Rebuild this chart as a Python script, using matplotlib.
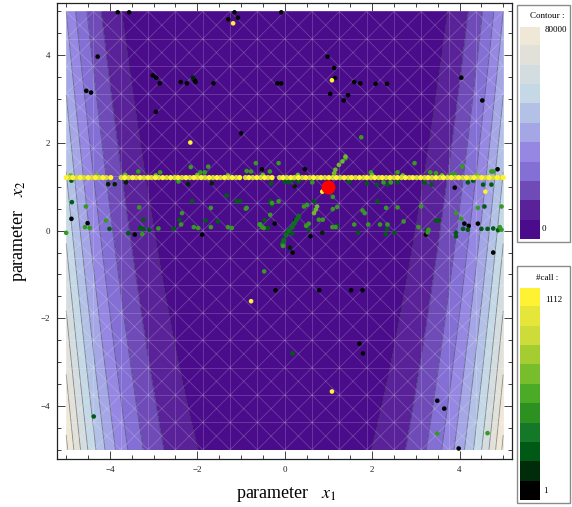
import numpy as np
import matplotlib
matplotlib.use("Agg")
import matplotlib.pyplot as plt
from matplotlib.colors import ListedColormap, LinearSegmentedColormap, BoundaryNorm, Normalize
from matplotlib.collections import LineCollection
from matplotlib.patches import Rectangle

W, H = 572, 507

# contour bands (Rosenbrock surface, levels every 8000)
contour_levels = [0, 8000, 16000, 24000, 32000, 40000, 48000, 56000, 64000, 72000, 80000, 92000]
contour_lines = [8000, 16000, 24000, 32000, 40000, 48000, 56000, 64000, 72000, 80000, 88000]
contour_colors = ["#4a0c8a", "#5a2298", "#6f4bb8", "#8470d4", "#9587e2", "#a5a6e5",
                  "#b3c1e7", "#c4d8e6", "#d3dde0", "#e1e1da", "#f0e8d6"]

# call-count colours (1 .. 1112)
call_colors = ["#000000", "#002c0a", "#005a16", "#147828", "#2d9122", "#4baa26",
               "#78bd2c", "#a5cc30", "#cddc38", "#e6e63a", "#fff232"]
call_min, call_max = 1, 1112

# sampled points, grouped by approximate call number
black_x1 = [-3.82, -3.56, -1.15, -1.29, -1.07, -0.08, -4.28, -4.54, -4.43, -3.02, -2.94, -2.86,
            -2.38, -2.24, -2.06, -2.04, -1.63, -2.95, -1.00, -0.17, -0.08, 0.98, 1.13, 1.15,
            1.04, 1.35, 1.45, 1.59, 1.73, 2.08, 2.34, 4.04, 4.52, -0.21, 0.79, 1.52, 1.78,
            1.71, 1.79, 3.49, 3.65, 3.98, 4.77, 0.18, -4.88, -4.51, -3.43, -1.89, -0.52, 0.46,
            -0.23, 0.25, 3.89, 4.87, 3.23, 4.11, 4.21, 4.42, 0.59]
black_x2 = [4.98, 4.98, 4.98, 4.82, 4.86, 4.98, 3.97, 3.19, 3.15, 3.54, 3.49, 3.36,
            3.39, 3.36, 3.43, 3.39, 3.36, 2.71, 2.22, 3.36, 3.36, 3.97, 3.71, 3.48,
            3.12, 2.97, 3.09, 3.39, 3.36, 3.35, 3.35, 3.49, 2.97, -1.36, -1.36, -1.36, -1.36,
            -2.58, -2.80, -3.88, -4.06, -4.97, -0.50, -0.50, 0.27, 0.17, -0.09, -0.09, 1.40, 1.40,
            0.16, 0.25, 0.98, 1.40, -0.09, 0.16, 0.11, 0.16, -0.13]
black_call = 15

vdark_x1 = [-4.04, -3.89, -3.63, -2.21, -2.10, 0.86, -1.67, 0.23, 0.12]
vdark_x2 = [1.06, 1.06, 1.10, 1.06, 3.49, -0.05, 1.08, 1.01, -0.39]
vdark_call = 90

dkgreen_x1 = [0.18, -4.37, -4.88, -4.87, -2.12, -4.01, -3.58, -3.31, -3.23, -3.10, -3.23, -2.54,
              -2.41, 0.00, 0.09, 0.18, 0.32, -0.31, -1.33, -1.10, -1.02, -0.33, -0.29, 0.67,
              -1.81, -1.53, -0.38, -0.46, 0.55, 1.20, 0.05, 0.17, 1.88, 2.11, 2.35, 2.58,
              3.20, 3.36, 4.19, 4.31, 4.54, 4.73, 4.57, 2.12, 3.46, 3.52, 2.34, 2.31, 2.51,
              1.68, 3.92, 3.92, 4.08, 4.19, 4.50, 4.64, 4.77, 4.88, 3.25, 1.47]
dkgreen_x2 = [-2.80, -4.24, 1.14, 0.65, 0.67, 0.04, -0.06, 0.06, 0.04, 0.02, 0.25, 0.04,
              0.25, 1.12, 1.10, 1.16, 1.12, 1.08, 0.80, 0.67, 0.67, 0.67, 0.59, 0.67,
              0.23, 0.21, 0.06, 0.24, 0.02, 0.11, -0.05, -0.07, 1.08, 1.05, 1.05, 1.10,
              1.10, 1.05, 1.10, 1.14, 1.05, 1.05, 0.55, 0.67, 0.23, 0.23, 0.04, -0.08, -0.05,
              -0.05, -0.05, -0.13, 0.04, 0.02, 0.04, 0.04, 0.05, 0.01, 0.01, 1.11]
dkgreen_call = 230

streak_x1 = [0.32, 0.27, 0.22, 0.17, 0.10, 0.03, -0.02, -0.05]
streak_x2 = [0.33, 0.25, 0.17, 0.08, 0.00, -0.10, -0.22, -0.30]
streak_call = 300

green_x1 = [1.75, -0.04, -0.47, 3.49, 4.64, -2.15, -3.35, -2.85, -1.93, -1.83, -2.43, -4.55,
            -3.33, -2.35, -4.57, -4.46, -4.09, -5.00, -3.26, -2.89, -2.37, -2.08, -1.98, -0.66,
            -0.14, -1.75, -0.87, -0.77, -0.34, 0.63, 1.10, -0.14, -1.69, -0.87, 0.44, 0.51,
            1.10, 1.20, -1.69, -1.30, -1.21, -0.56, -0.48, 0.55, 0.49, 0.78, 0.87, 1.09, 1.16,
            2.97, 4.06, 2.58, 1.97, 3.33, 3.46, 3.81, 3.89, 4.73, 4.77, 1.39, 2.26, 2.43,
            4.42, 4.96, 1.78, 1.83, 2.32, 2.58, 3.12, 2.72, 3.92, 4.04, 1.59, 1.91, 2.18,
            2.35, 3.06, 3.29, 3.27, 4.92, 4.96, -0.33, -0.29, -0.89, -0.58, -0.52]
green_x2 = [2.13, -0.35, -0.93, -4.63, -4.62, 1.45, 1.35, 1.33, 1.33, 1.33, 1.12, 0.55,
            0.53, 0.40, 0.08, 0.06, 0.23, -0.05, -0.08, 0.05, 0.14, 0.08, 0.06, 1.54,
            1.54, 1.46, 1.36, 1.35, 1.35, 1.10, 0.77, 0.67, 0.52, 0.52, 0.55, 0.59,
            0.49, 0.54, 0.08, 0.08, 0.06, 0.14, 0.06, 0.16, 0.11, 0.25, 0.25, 0.08, 0.08,
            1.54, 1.46, 1.33, 1.33, 1.33, 1.31, 1.27, 1.29, 1.35, 1.35, 1.65, 1.10, 1.10,
            0.52, 0.55, 0.46, 0.40, 0.52, 0.53, 0.55, 0.21, 0.40, 0.27, 0.14, 0.14, 0.14,
            0.14, 0.08, 0.02, -0.04, 0.08, 0.02, 0.36, 0.63, 0.50, 0.14, 0.08]
green_call = 480

ltgreen_x1 = [1.13, 1.16, 1.24, 1.32, 1.39, 0.74, 0.71, 0.67,
              -4.90, -4.30, -3.65, -2.95, -2.00, -1.30, -0.50, 0.30, 2.00, 2.70, 3.60, 4.40]
ltgreen_x2 = [1.31, 1.39, 1.50, 1.58, 1.69, 0.55, 0.48, 0.40,
              1.26, 1.26, 1.27, 1.26, 1.27, 1.26, 1.27, 1.27, 1.27, 1.26, 1.26, 1.27]
ltgreen_call = 640

yellow_x1 = [-1.18, -2.16, 1.08, -0.77, 1.08, 4.59, 0.86]
yellow_x2 = [4.73, 2.01, 3.43, -1.61, -3.67, 0.89, 0.89]
yellow_call = 1100

# the long run of late calls along x2 ~ 1.21
line_x2 = 1.21
line_bright_x1 = [-5.0, -4.85, -4.68, -4.5, -4.33, -4.16, -3.98, -3.66, -3.48, -3.31, -3.13,
                  -2.96, -2.79, -2.61, -2.44, -2.26, -2.08, -1.91, -1.73, -1.55, -1.38, -1.2,
                  -1.03, -0.82, -0.64, -0.46, -0.29, -0.04, 0.14, 0.31, 0.48, 0.66, 0.83, 1.01,
                  1.18, 1.36, 1.53, 1.71, 1.88, 2.06, 2.23, 2.41, 2.58, 2.76, 2.93, 3.11, 3.28,
                  3.46, 3.63, 3.81, 3.98, 4.16, 4.33, 4.51, 4.68, 4.86, 5.0]
line_pale_x1 = [-4.93, -4.76, -4.6, -4.42, -4.25, -4.08, -3.74, -3.57, -3.4, -3.22, -3.05,
                -2.88, -2.7, -2.52, -2.35, -2.17, -2.0, -1.82, -1.64, -1.47, -1.29, -1.11,
                -0.9, -0.73, -0.55, -0.38, -0.12, 0.05, 0.22, 0.4, 0.57, 0.75, 0.92, 1.1,
                1.27, 1.45, 1.62, 1.8, 1.97, 2.15, 2.32, 2.5, 2.67, 2.85, 3.02, 3.2, 3.37,
                3.55, 3.72, 3.9, 4.07, 4.25, 4.42, 4.6, 4.77, 4.95]
line_bright_call = 1112
line_pale_call = 900

optimum = (1.0, 1.0)

serif = "Liberation Serif"
plt.rcParams["font.family"] = [serif, "DejaVu Serif"]
plt.rcParams["mathtext.fontset"] = "stix"


def fx(px):
    return px / W


def fy(py):
    return 1 - py / H


fig = plt.figure(figsize=(W / 100, H / 100), dpi=100)
ax = fig.add_axes([fx(57), fy(459), (512 - 57) / W, (459 - 2.7) / H])
ax.set_xlim(-5.21, 5.2)
ax.set_ylim(-5.21, 5.2)

# contour surface on the [-5, 5] square
g1 = np.linspace(-5, 5, 400)
X1, X2 = np.meshgrid(g1, g1)
Z = 100 * (X2 - X1 ** 2) ** 2 + (1 - X1) ** 2
cmap_c = ListedColormap(contour_colors)
norm_c = BoundaryNorm(contour_levels, cmap_c.N)
ax.contourf(X1, X2, Z, levels=contour_levels, cmap=cmap_c, norm=norm_c)
ax.contour(X1, X2, Z, levels=contour_lines, colors="#3a3a4a", linewidths=0.6, alpha=0.55)

# faint triangulation mesh overlay
s = 0.625
ticks_m = np.arange(-5, 5.001, s)
segs = [[(t, -5), (t, 5)] for t in ticks_m] + [[(-5, t), (5, t)] for t in ticks_m]
for k in range(-16, 17):
    c = k * s
    lo, hi = max(-5, -5 - c), min(5, 5 - c)
    if hi > lo:
        segs.append([(lo, lo + c), (hi, hi + c)])
    lo, hi = max(-5, c - 5), min(5, c + 5)
    if hi > lo:
        segs.append([(lo, c - lo), (hi, c - hi)])
ax.add_collection(LineCollection(segs, colors="white", linewidths=0.6, alpha=0.2))

# sample points coloured by call number
cmap_p = LinearSegmentedColormap.from_list("calls", call_colors)
norm_p = Normalize(call_min, call_max)
groups = [
    (black_x1, black_x2, black_call, 11),
    (vdark_x1, vdark_x2, vdark_call, 11),
    (dkgreen_x1, dkgreen_x2, dkgreen_call, 11),
    (streak_x1, streak_x2, streak_call, 14),
    (green_x1, green_x2, green_call, 11),
    (ltgreen_x1, ltgreen_x2, ltgreen_call, 11),
    (line_pale_x1, [line_x2] * len(line_pale_x1), line_pale_call, 14),
    (line_bright_x1, [line_x2] * len(line_bright_x1), line_bright_call, 14),
    (yellow_x1, yellow_x2, yellow_call, 11),
]
for gx, gy, call, size in groups:
    ax.scatter(gx, gy, c=[call] * len(gx), cmap=cmap_p, norm=norm_p, s=size,
               linewidths=0, zorder=3)
ax.scatter([optimum[0]], [optimum[1]], s=100, color="#ff0000", linewidths=0, zorder=4)

# frame and ticks
ax.set_xticks([-4, -2, 0, 2, 4])
ax.set_yticks([-4, -2, 0, 2, 4])
ax.set_xticks(np.arange(-5, 5.01, 0.5), minor=True)
ax.set_yticks(np.arange(-5, 5.01, 0.5), minor=True)
ax.tick_params(which="both", direction="in", top=True, right=True, width=0.6, colors="#222222")
ax.tick_params(which="major", length=5.5, labelsize=6.5, pad=5)
ax.tick_params(which="minor", length=3)
for sp in ax.spines.values():
    sp.set_linewidth(0.9)
    sp.set_color("#222222")

fig.text(fx(286), fy(494), r"parameter   $x_1$", ha="center", va="center", fontsize=13)
fig.text(fx(20), fy(231), r"parameter   $x_2$", ha="center", va="center", fontsize=13,
         rotation=90)

# legend boxes
for top, bot in [(5, 242), (266, 503)]:
    fig.patches.append(Rectangle((fx(517), fy(bot)), (570 - 517) / W, (bot - top) / H,
                                 transform=fig.transFigure, fill=False,
                                 edgecolor="#8a8a8a", linewidth=1.0))

ax_c = fig.add_axes([fx(520), fy(239), 20 / W, (239 - 27) / H])
ax_c.imshow(np.arange(len(contour_colors))[::-1].reshape(-1, 1), cmap=cmap_c,
            aspect="auto", interpolation="nearest")
ax_c.axis("off")
fig.text(fx(547), fy(16), "Contour :", ha="center", va="center", fontsize=6.5)
fig.text(fx(545), fy(30), str(contour_levels[-2]), ha="left", va="center", fontsize=6.5)
fig.text(fx(542), fy(229), str(contour_levels[0]), ha="left", va="center", fontsize=6.5)

ax_p = fig.add_axes([fx(520), fy(500), 20 / W, (500 - 288) / H])
ax_p.imshow(np.arange(len(call_colors))[::-1].reshape(-1, 1), cmap=ListedColormap(call_colors),
            aspect="auto", interpolation="nearest")
ax_p.axis("off")
fig.text(fx(547), fy(278), "#call :", ha="center", va="center", fontsize=6.5)
fig.text(fx(545), fy(300), str(call_max), ha="left", va="center", fontsize=6.5)
fig.text(fx(543), fy(491), str(call_min), ha="left", va="center", fontsize=6.5)

fig.savefig("out.png", dpi=100)
